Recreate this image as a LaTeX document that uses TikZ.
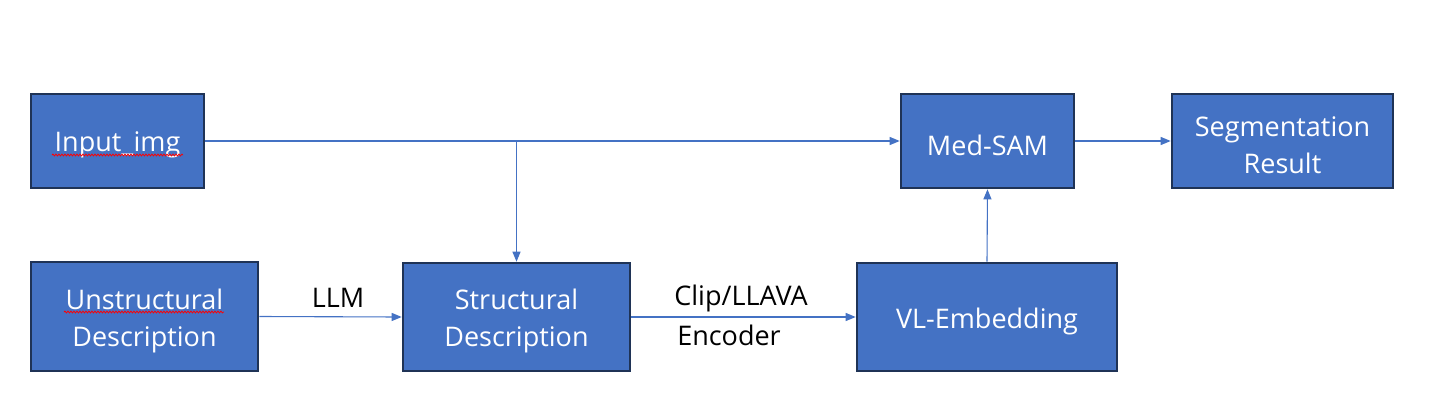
\documentclass[tikz,border=0pt]{standalone}
\usepackage{fontspec}
\setmainfont{Open Sans}
\usetikzlibrary{arrows.meta,decorations.pathmorphing}
\definecolor{boxblue}{HTML}{4472C4}
\definecolor{navy}{HTML}{1F3356}
\tikzset{
  box/.style={draw=navy, line width=2.6pt, fill=boxblue, inner sep=0pt},
  boxtext/.style={text=white, align=center, inner sep=0pt, yshift=-4pt,
    font=\fontsize{27}{37}\selectfont},
  conn/.style={draw=boxblue, line width=1.1pt, -{Triangle[length=10pt,width=8pt]}},
  lbl/.style={text=black, font=\fontsize{27}{30}\selectfont, inner sep=0pt},
  squig/.style={draw=red, line width=0.8pt, decorate,
    decoration={snake, amplitude=0.9pt, segment length=3pt}}
}
\begin{document}
\begin{tikzpicture}[x=1pt,y=-1pt]
\useasboundingbox (0,0) rectangle (1445,418);
\node[box, minimum width=173pt, minimum height=94pt,
  label={[boxtext]center:Input\_img}] (in) at (117.5,141) {};
\node[box, minimum width=227pt, minimum height=109pt,
  label={[boxtext]center:{Unstructural\\Description}}] (ud) at (144.5,316.5) {};
\node[box, minimum width=227pt, minimum height=108pt,
  label={[boxtext]center:{Structural\\Description}}] (sd) at (516.5,317) {};
\node[box, minimum width=260pt, minimum height=108pt,
  label={[boxtext]center:VL-Embedding}] (vl) at (987,317) {};
\node[box, minimum width=173pt, minimum height=94pt,
  label={[boxtext]center:Med-SAM}] (sam) at (987.5,141) {};
\node[box, minimum width=221pt, minimum height=94pt,
  label={[boxtext]center:{Segmentation\\Result}}] (seg) at (1282.5,141) {};
\draw[conn] (in.east) -- (sam.west);
\coordinate (j) at (sd.north |- in.east);
\draw[conn] (j) -- (sd.north);
\draw[conn] (ud.east) -- (sd.west);
\draw[conn] (sd.east) -- (vl.west);
\draw[conn] (vl.north) -- (sam.south);
\draw[conn] (sam.east) -- (seg.west);
\node[lbl] (llm) at (338,298) {LLM};
\node[lbl] (clip) at (741,298) {Clip/LLAVA};
\node[lbl] (enc) at (729,335) {Encoder};
\draw[squig] (52,155) -- (183,155);
\draw[squig] (64,312) -- (224,312);
\end{tikzpicture}
\end{document}
